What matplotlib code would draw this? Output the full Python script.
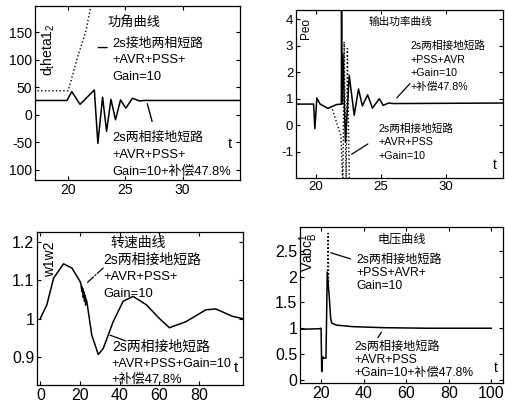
import matplotlib
matplotlib.use('Agg')
import matplotlib.pyplot as plt

plt.rcParams['font.family'] = ['Liberation Sans', 'Noto Sans CJK SC', 'DejaVu Sans']
plt.rcParams['axes.unicode_minus'] = False
plt.rcParams['mathtext.fontset'] = 'custom'
plt.rcParams['mathtext.rm'] = 'Liberation Sans'

# --- power angle (top left) ---
delta_t = [17.0, 19.9, 20.32, 21.04, 22.29, 22.6, 23.01, 23.36, 23.74, 24.14,
           24.58, 25.04, 25.62, 26.26, 26.6, 35.0]
delta_comp = [26, 26, 42, 19, 45, -52, 32, -30, 28, -9, 27, 12, 30, 25, 26, 26]
delta_dot_t = [17.0, 20.0, 20.26, 20.61, 20.9, 21.19, 21.57, 21.85, 22.06]
delta_dot = [43.6, 43.6, 62, 89, 110, 128, 153, 183, 207]
delta_yticks = [-100, -50, 0, 50, 100, 150]
delta_yticklabels = ['100', '-50', '0', '50', '100', '150']

# --- output power (top right) ---
peo_t = [18.5, 19.85, 19.95, 20.1, 20.35, 20.95, 21.6, 21.98, 22.0, 22.03,
         22.1, 22.3, 22.59, 22.97, 23.3, 23.6, 24.0, 24.37, 24.9, 25.2,
         25.6, 26.0, 34.4]
peo_comp = [0.8, 0.8, -0.13, 1.03, 0.8, 0.64, 0.78, 0.8, 4.5, 0.8,
            2.7, -0.64, 1.88, 0.38, 1.37, 0.73, 1.15, 0.65, 1.0, 0.75,
            0.84, 0.82, 0.84]
peo_dot_t = [21.3, 21.95, 22.1, 22.2, 22.35, 22.45, 22.6]
peo_dot = [0.6, -0.4, -2.2, 3.15, -2.2, 2.9, -2.2]

# --- speed (bottom left) ---
w_t = [0, 3.3, 6.7, 11.7, 15.9, 20, 23.4, 25.9, 29.2, 31.7, 36.7, 41.7,
       46.7, 53.4, 60, 65, 73.4, 83.4, 88.4, 96.7, 101.7]
w = [1.0, 1.036, 1.106, 1.143, 1.132, 1.097, 1.045, 0.957, 0.906, 0.922,
     0.992, 1.045, 1.058, 1.036, 1.0, 0.976, 0.992, 1.023, 1.025, 1.006, 1.0]
w_fast_t = [20.5, 21.0, 21.3, 21.6, 21.9, 22.2, 22.5, 22.8, 23.1]
w_fast = [1.085, 1.07, 1.08, 1.055, 1.07, 1.045, 1.06, 1.035, 1.045]

# --- voltage (bottom right) ---
v_t = [10, 19.0, 19.9, 20.2, 20.6, 21.0, 22.2, 22.8, 23.8, 24.4, 24.9,
       27.2, 35, 50, 70, 100]
v_comp = [0.98, 0.99, 1.0, 0.16, 0.45, 0.42, 0.42, 2.09, 1.58, 1.19, 1.1,
          1.06, 1.03, 1.01, 1.0, 1.0]
v_dot_t = [22.9, 23.2, 23.45]
v_dot = [1.9, 2.84, 1.9]


def note(ax, x, y, rows, sizes, step):
    # one text per line, first line centred on (x, y), step in points
    for i, (row, size) in enumerate(zip(rows, sizes)):
        ax.annotate(row, (x, y), xytext=(0, -i * step), textcoords='offset points',
                    ha='left', va='center', fontsize=size)


fig = plt.figure(figsize=(5.06, 4.05), dpi=100)

ax1 = fig.add_axes([0.069, 0.556, 0.405, 0.43])
ax2 = fig.add_axes([0.585, 0.560, 0.409, 0.415])
ax3 = fig.add_axes([0.073, 0.049, 0.407, 0.378])
ax4 = fig.add_axes([0.593, 0.054, 0.401, 0.385])

for ax in (ax1, ax2, ax3, ax4):
    ax.tick_params(direction='in', top=True, right=True, length=3, width=0.8, pad=2)
    for s in ax.spines.values():
        s.set_linewidth(0.9)

# top left
ax1.plot(delta_t, delta_comp, color='black', lw=1.1)
ax1.plot(delta_dot_t, delta_dot, color='black', lw=1.0, linestyle=':')
ax1.set_xlim(17.1, 35)
ax1.set_ylim(-118, 198)
ax1.set_xticks([20, 25, 30])
ax1.set_yticks(delta_yticks)
ax1.set_yticklabels(delta_yticklabels)
ax1.tick_params(labelsize=10)
ax1.text(25.8, 166, '功角曲线', fontsize=9.5, ha='center', va='center')
note(ax1, 23.9, 129, ['2s接地两相短路', '+AVR+PSS+', 'Gain=10'], [9.3, 9.3, 9.3], 12)
note(ax1, 23.9, -41, ['2s两相接地短路', '+AVR+PSS+', 'Gain=10+补偿47.8%'],
     [9.3, 9.3, 9.3], 12.5)
ax1.annotate('', xy=(22.26, 122), xytext=(23.65, 122),
             arrowprops=dict(arrowstyle='-', lw=1.0, linestyle='-.'))
ax1.annotate('', xy=(26.85, 25), xytext=(27.4, -17),
             arrowprops=dict(arrowstyle='-', lw=1.0))
ax1.text(0.063, 0.75, r'$\mathrm{d_theta1_2}$', transform=ax1.transAxes,
         rotation=90, ha='center', va='center', fontsize=10)
ax1.text(34.1, -53, 't', fontsize=11, ha='center', va='center')

# top right
ax2.plot(peo_t, peo_comp, color='black', lw=1.1)
ax2.plot(peo_dot_t, peo_dot, color='black', lw=1.0, linestyle=':')
ax2.set_xlim(18.5, 34.4)
ax2.set_ylim(-2.0, 4.35)
ax2.set_xticks([20, 25, 30])
ax2.set_yticks([-1, 0, 1, 2, 3, 4])
ax2.tick_params(labelsize=9.5)
ax2.text(26.5, 3.92, '输出功率曲线', fontsize=7.7, ha='center', va='center')
note(ax2, 27.3, 3.0, ['2s两相接地短路', '+PSS+AVR', '+Gain=10', '+补偿47.8%'],
     [7.7] * 4, 9.9)
note(ax2, 24.85, -0.12, ['2s两相接地短路', '+AVR+PSS', '+Gain=10'], [7.7] * 3, 9.9)
ax2.annotate('', xy=(26.1, 0.96), xytext=(27.4, 1.65),
             arrowprops=dict(arrowstyle='-', lw=0.9))
ax2.annotate('', xy=(22.6, -1.15), xytext=(24.2, -0.65),
             arrowprops=dict(arrowstyle='-', lw=0.9))
ax2.text(0.048, 0.89, 'Peo', transform=ax2.transAxes, rotation=90,
         ha='center', va='center', fontsize=8.5)
ax2.text(33.8, -1.5, 't', fontsize=10, ha='center', va='center')

# bottom left
ax3.plot(w_t, w, color='black', lw=1.1)
ax3.plot(w_fast_t, w_fast, color='black', lw=1.0)
ax3.set_xlim(-1.7, 102)
ax3.set_ylim(0.826, 1.226)
ax3.set_xticks([0, 20, 40, 60, 80])
ax3.set_yticks([0.9, 1.0, 1.1, 1.2])
ax3.set_yticklabels(['0.9', '1', '1.1', '1.2'])
ax3.tick_params(labelsize=11.5)
ax3.text(49.5, 1.198, '转速曲线', fontsize=10, ha='center', va='center')
note(ax3, 31.8, 1.154, ['2s两相接地短路', '+AVR+PSS+', 'Gain=10'], [10, 9.4, 9.4], 12.5)
note(ax3, 36, 0.926, ['2s两相接地短路', '+AVR+PSS+Gain=10', '+补偿47.8%'],
     [10, 9.0, 9.4], 12)
ax3.annotate('', xy=(22.6, 1.089), xytext=(32.7, 1.137),
             arrowprops=dict(arrowstyle='-', lw=0.9, linestyle='-.'))
ax3.annotate('', xy=(33.8, 0.959), xytext=(44.4, 0.939),
             arrowprops=dict(arrowstyle='-', lw=0.9))
ax3.text(0.063, 0.82, 'w1w2', transform=ax3.transAxes, rotation=90,
         ha='center', va='center', fontsize=10)
ax3.text(98.5, 0.872, 't', fontsize=11, ha='center', va='center')

# bottom right
ax4.plot(v_t, v_comp, color='black', lw=1.1)
ax4.plot(v_dot_t, v_dot, color='black', lw=1.0, linestyle=':')
ax4.set_xlim(10, 105.5)
ax4.set_ylim(-0.065, 2.96)
ax4.set_xticks([20, 40, 60, 80, 100])
ax4.set_yticks([0, 0.5, 1, 1.5, 2, 2.5])
ax4.set_yticklabels(['0', '0.5', '1', '1.5', '2', '2.5'])
ax4.tick_params(labelsize=11.5)
ax4.text(58, 2.71, '电压曲线', fontsize=8.7, ha='center', va='center')
note(ax4, 36.5, 2.33, ['2s两相接地短路', '+PSS+AVR+', 'Gain=10'], [8.7] * 3, 9.6)
note(ax4, 35.7, 0.64, ['2s两相接地短路', '+AVR+PSS', '+Gain=10+补偿47.8%'],
     [8.7] * 3, 9.3)
ax4.annotate('', xy=(23.2, 2.48), xytext=(35, 2.33),
             arrowprops=dict(arrowstyle='-', lw=0.9))
ax4.annotate('', xy=(49, 0.97), xytext=(45.9, 0.77),
             arrowprops=dict(arrowstyle='-', lw=0.9))
ax4.text(0.045, 0.84, r'$\mathrm{Vabc_B^1}$', transform=ax4.transAxes, rotation=90,
         ha='center', va='center', fontsize=10)
ax4.text(102, 0.23, 't', fontsize=10, ha='center', va='center')

fig.savefig('out.png', dpi=100)
